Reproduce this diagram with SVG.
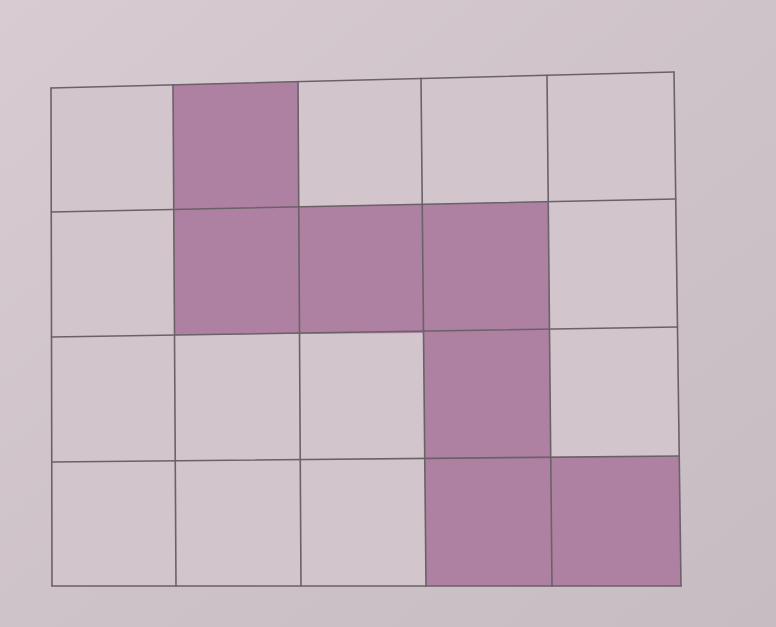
<svg xmlns="http://www.w3.org/2000/svg" width="776" height="627" viewBox="0 0 776 627">
  <defs>
    <linearGradient id="paper" x1="0" y1="0" x2="1" y2="1">
      <stop offset="0" stop-color="#d8ccd2"/>
      <stop offset="0.5" stop-color="#cfc3ca"/>
      <stop offset="1" stop-color="#c8bcc3"/>
    </linearGradient>
  </defs>
  <style>
    .cell { fill: #d2c6cc; }
    .shade { fill: #ae80a1; }
    .grid { stroke: #6a6268; stroke-width: 1.6; fill: none; stroke-linecap: round; }
  </style>
  <rect x="0" y="0" width="776" height="627" fill="url(#paper)"/>
  <g id="board">
    <polygon class="cell" points="51,88 674,72 681,586 52,586"/>
  </g>
  <g id="shaded">
    <polygon class="shade" points="173,84.8 298,81.6 298.75,206.8 548.25,201.6 549.5,329 550.75,457.2 679.25,456 681,586 426,586 423.5,333 174.5,335 173.75,209.4"/>
  </g>
  <g id="grid" class="grid">
    <line x1="51" y1="88" x2="674" y2="72"/>
    <line x1="51.25" y1="212" x2="675.75" y2="199"/>
    <line x1="51.5" y1="337" x2="677.5" y2="327"/>
    <line x1="51.75" y1="462" x2="679.25" y2="456"/>
    <line x1="52" y1="586" x2="681" y2="586"/>
    <line x1="51" y1="88" x2="52" y2="586"/>
    <line x1="173" y1="84.8" x2="176" y2="586"/>
    <line x1="298" y1="81.6" x2="301" y2="586"/>
    <line x1="421" y1="78.4" x2="426" y2="586"/>
    <line x1="547" y1="75.2" x2="552" y2="586"/>
    <line x1="674" y1="72" x2="681" y2="586"/>
  </g>
</svg>
